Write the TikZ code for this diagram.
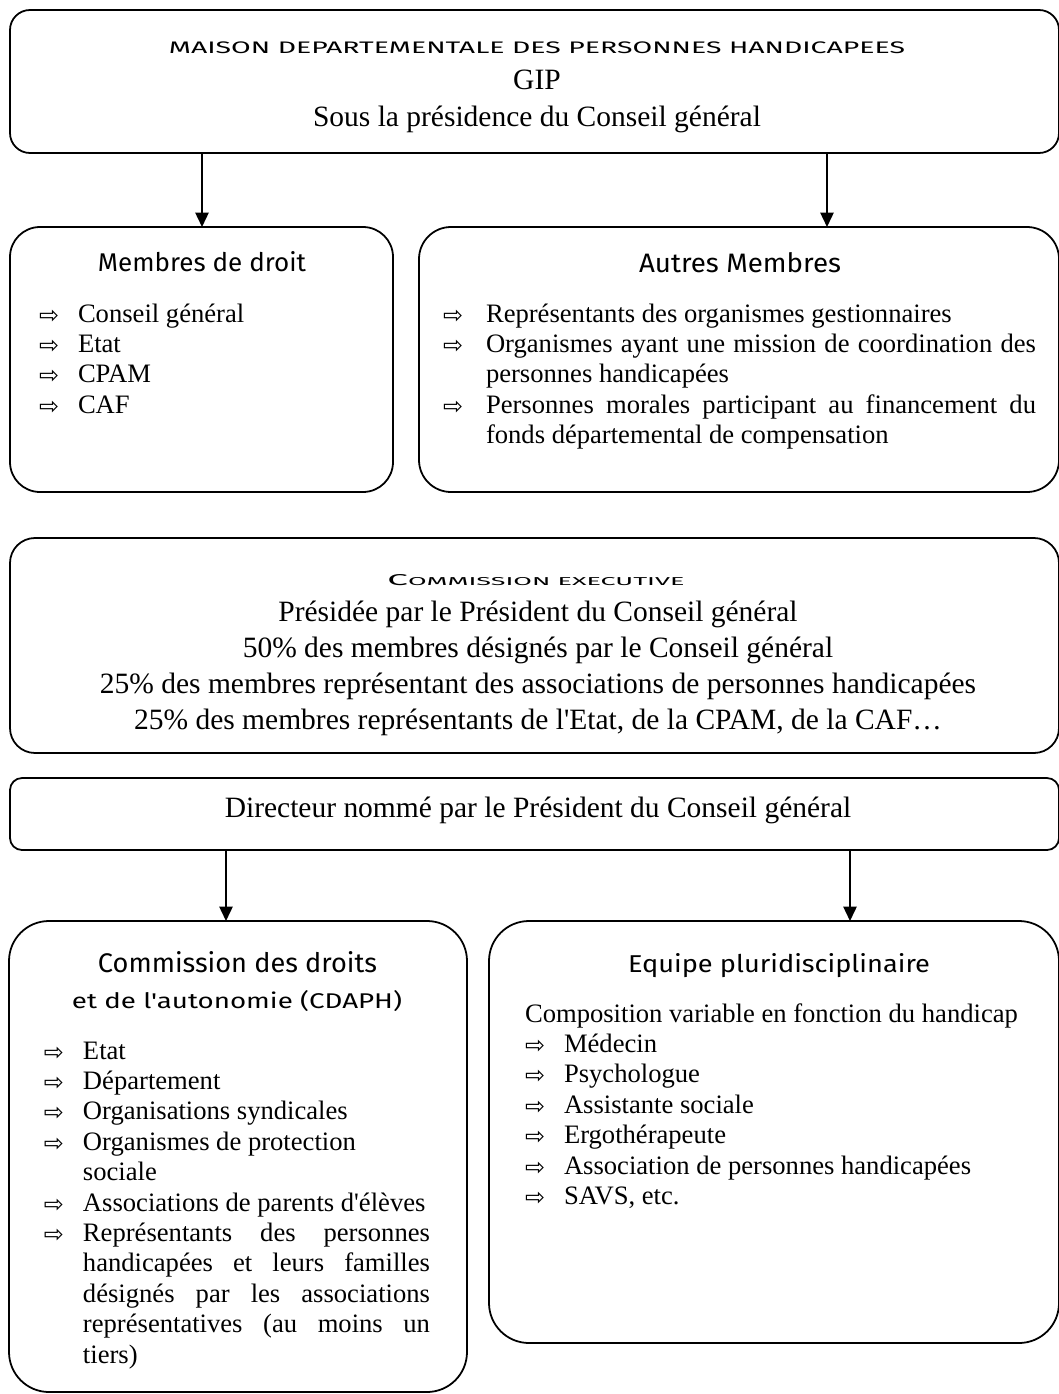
\documentclass[tikz,border=0pt]{standalone}
\usepackage{fontspec}
\usepackage{graphicx}
\newfontfamily\tnr{Liberation Serif}
\newfontfamily\symf{DejaVu Sans}
\newfontfamily\hwf{Fira Sans}
\usetikzlibrary{arrows.meta}
\newdimen\pxu \pxu=0.451pt
\newlength\itind
\newlength\arroff
\newcommand\arrsym{\raisebox{-1\pxu}{\resizebox{20\pxu}{!}{\symf ⇨}}}
\newcommand\itm[1]{\par\hangindent=\itind\hangafter=1\noindent\makebox[\itind][l]{\hspace*{\arroff}\hspace*{-3\pxu}\arrsym}#1}
\newcommand\listfont{\tnr\fontsize{12}{13.71}\selectfont}
\newcommand\bigfont{\tnr\fontsize{13.3}{16.24}\selectfont}
\newcommand\hw[3]{\resizebox{#1\pxu}{#2\pxu}{\hwf #3}}
\begin{document}
\begin{tikzpicture}[x=0.451pt,y=-0.451pt,
  box/.style={draw, line width=0.8pt, inner sep=0pt, outer sep=0pt, anchor=north west},
  conn/.style={line width=0.8pt, -{Triangle[length=6.5pt,width=6pt]}},
  txt/.style={inner sep=0pt, outer sep=0pt},
  lbl/.style={txt, anchor=base},
  lst/.style={txt, anchor=base west}]
\fill[white] (0,0) rectangle (1058,1394);
\useasboundingbox (0,0) rectangle (1058,1394);

% boxes
\node[box, rounded corners=20\pxu, minimum width=1049\pxu, minimum height=143\pxu] (maison) at (10,10) {};
\node[box, rounded corners=30\pxu, minimum width=383\pxu, minimum height=265\pxu] (droit) at (10,227) {};
\node[box, rounded corners=32\pxu, minimum width=640\pxu, minimum height=265\pxu] (autres) at (419,227) {};
\node[box, rounded corners=25\pxu, minimum width=1049\pxu, minimum height=215\pxu] (commis) at (10,538) {};
\node[box, rounded corners=12\pxu, minimum width=1049\pxu, minimum height=72\pxu] (direct) at (10,778) {};
\node[box, rounded corners=40\pxu, minimum width=458\pxu, minimum height=471\pxu] (cdaph) at (9,921) {};
\node[box, rounded corners=40\pxu, minimum width=570\pxu, minimum height=422\pxu] (equipe) at (489,921) {};

% connectors
\coordinate (c1) at (202,0);
\coordinate (c2) at (827,0);
\coordinate (c3) at (226,0);
\coordinate (c4) at (850,0);
\draw[conn] (maison.south -| c1) -- (droit.north -| c1);
\draw[conn] (maison.south -| c2) -- (autres.north -| c2);
\draw[conn] (direct.south -| c3) -- (cdaph.north -| c3);
\draw[conn] (direct.south -| c4) -- (equipe.north -| c4);

% top box
\node[lbl] (maisont) at (537,53.5) {\hw{736}{11.7}{MAISON DEPARTEMENTALE DES PERSONNES HANDICAPEES}};
\node[lbl] (gip) at (537,90) {\bigfont GIP};
\node[lbl] (sous) at (537,126.5) {\bigfont Sous la présidence du Conseil général};

% membres de droit
\node[lbl] (droitt) at (202,272) {\hw{208}{20}{Membres de droit}};
\node[lst] (droitl) at (42,322) {\parbox[t]{340\pxu}{\listfont\setlength\itind{36\pxu}\setlength\arroff{0pt}%
\itm{Conseil général}\itm{Etat}\itm{CPAM}\itm{CAF}}};

% autres membres
\node[lbl] (autrest) at (740,272) {\hw{202}{20}{Autres Membres}};
\node[lst] (autresl) at (446,322) {\parbox[t]{590\pxu}{\listfont\setlength\itind{40\pxu}\setlength\arroff{0pt}%
\itm{Représentants des organismes gestionnaires}%
\itm{Organismes ayant une mission de coordination des\linebreak personnes handicapées}%
\itm{Personnes morales participant au financement du\linebreak fonds départemental de compensation}}};

% commission executive
\node[lbl] (comt) at (536,585) {\resizebox{297\pxu}{11\pxu}{\hwf{\fontsize{10}{10}\selectfont C}{\fontsize{7.3}{8}\selectfont OMMISSION EXECUTIVE}}};
\node[lbl] (coml) at (538,621) {\parbox[t]{1000\pxu}{\centering\bigfont
Présidée par le Président du Conseil général\\
50\% des membres désignés par le Conseil général\\
25\% des membres représentant des associations de personnes handicapées\\
25\% des membres représentants de l'Etat, de la CPAM, de la CAF…}};

% directeur
\node[lbl] (dirt) at (538,817) {\bigfont Directeur nommé par le Président du Conseil général};

% CDAPH
\node[lbl] (cdapht1) at (237.5,972) {\hw{279}{21}{Commission des droits}};
\node[lbl] (cdapht2) at (237,1008) {\hw{330}{18}{et de l'autonomie (CDAPH)}};
\node[lst] (cdaphl) at (47,1059) {\parbox[t]{383\pxu}{\listfont\setlength\itind{36\pxu}\setlength\arroff{0pt}%
\itm{Etat}\itm{Département}\itm{Organisations syndicales}%
\itm{Organismes de protection\newline sociale}%
\itm{Associations de parents d'élèves}%
\itm{Représentants des personnes\linebreak handicapées et leurs familles\linebreak désignés par les associations\linebreak représentatives (au moins un\linebreak tiers)}}};

% equipe
\node[lbl] (equipet) at (779,972) {\hw{302}{19}{Equipe pluridisciplinaire}};
\node[lst] (equipel) at (525,1022) {\parbox[t]{520\pxu}{\listfont\setlength\itind{39\pxu}\setlength\arroff{3\pxu}%
\noindent Composition variable en fonction du handicap%
\itm{Médecin}\itm{Psychologue}\itm{Assistante sociale}\itm{Ergothérapeute}%
\itm{Association de personnes handicapées}\itm{SAVS, etc.}}};
\end{tikzpicture}
\end{document}
